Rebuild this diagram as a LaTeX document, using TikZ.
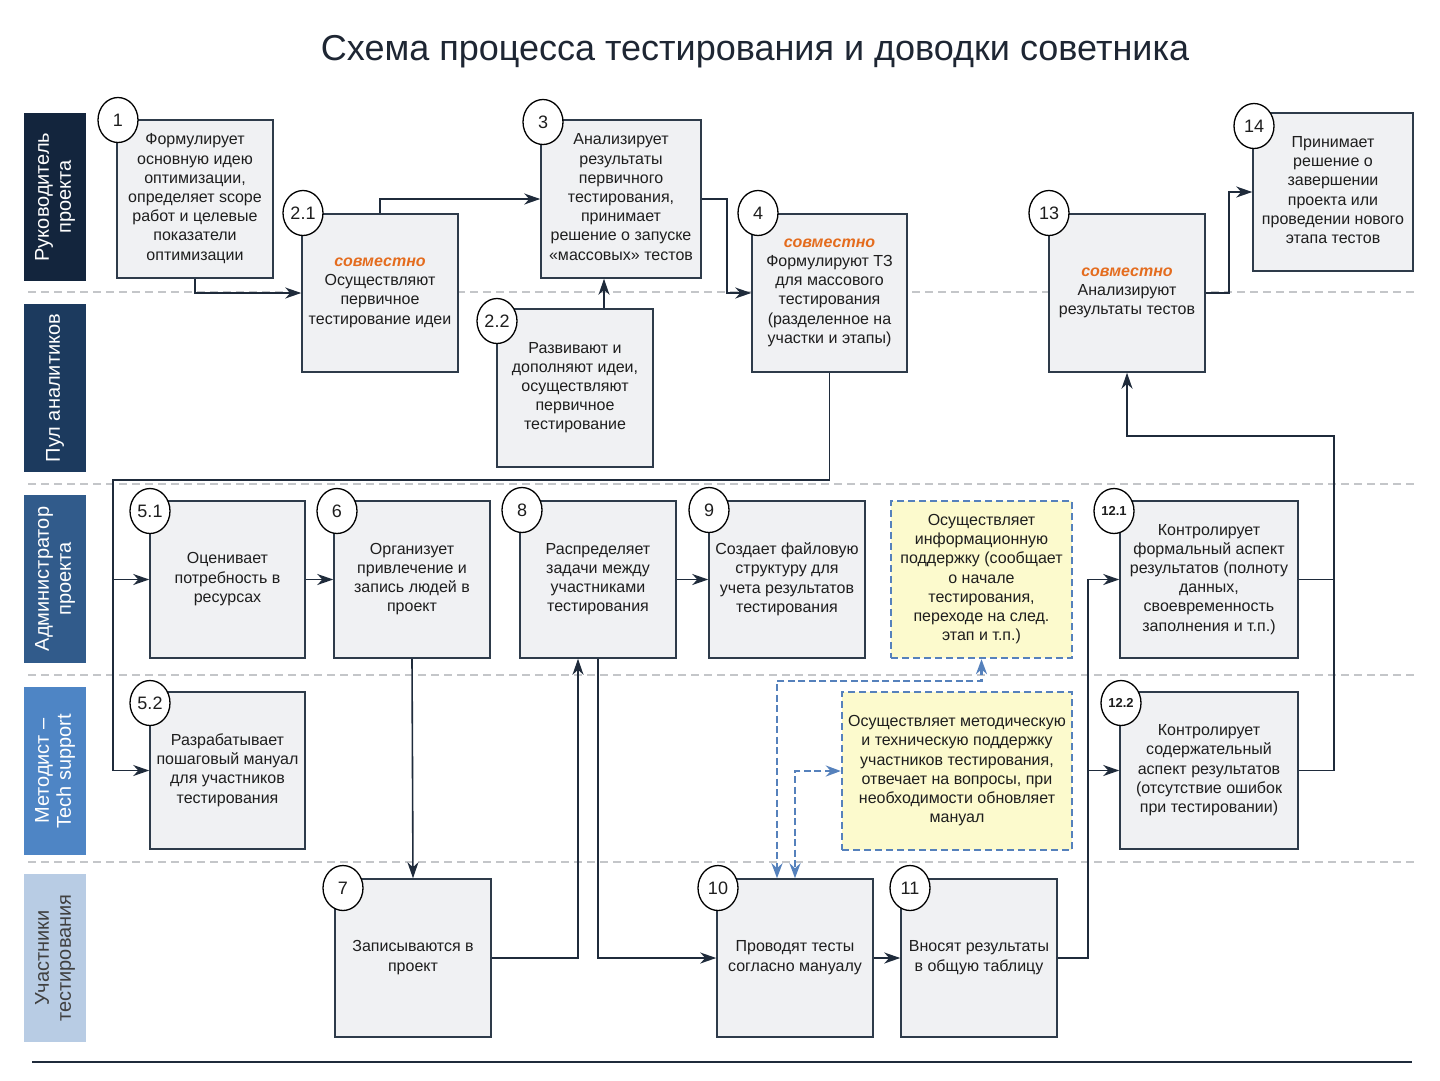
\documentclass[tikz,border=0pt]{standalone}
\usepackage{fontspec}
\setmainfont{Liberation Sans}
\usetikzlibrary{arrows.meta,shapes.geometric}
\definecolor{boxfill}{HTML}{F0F1F3}
\definecolor{boxline}{HTML}{2E3B4A}
\definecolor{lc}{HTML}{1F2B3B}
\definecolor{txt}{HTML}{1E1E1E}
\definecolor{titlec}{HTML}{1E2633}
\definecolor{sovc}{HTML}{E46C1E}
\definecolor{yfill}{HTML}{FCFACD}
\definecolor{dblue}{HTML}{5581BC}
\definecolor{sepc}{HTML}{C4C6C9}
\definecolor{laneA}{HTML}{13253D}
\definecolor{laneB}{HTML}{1C3A5E}
\definecolor{laneC}{HTML}{315B8B}
\definecolor{laneD}{HTML}{4E85C5}
\definecolor{laneE}{HTML}{B8CCE4}
\newcommand{\sov}{\textcolor{sovc}{\bfseries\itshape совместно}}
\begin{document}
\begin{tikzpicture}[x=1pt,y=-1pt,
  box/.style={draw=boxline, fill=boxfill, line width=1.5pt, minimum width=156pt, minimum height=158pt,
    align=center, font=\fontsize{16}{19.2}\selectfont, text=txt, inner sep=1pt, text depth=4pt},
  ybox/.style={box, draw=dblue, fill=yfill, dash pattern=on 7pt off 4pt, line width=2.4pt},
  num/.style={ellipse, draw=black, fill=white, minimum width=40pt, minimum height=45pt, inner sep=0pt,
    line width=1.3pt, font=\fontsize{18}{18}\selectfont, text=txt, text depth=0pt},
  bnum/.style={num, font=\fontsize{13}{13}\selectfont\bfseries},
  lane/.style={rotate=90, minimum width=168pt, minimum height=62pt, inner sep=0pt, align=center,
    font=\fontsize{20}{22}\selectfont, text=white},
  sep/.style={draw=sepc, line width=1.2pt, dash pattern=on 8pt off 5pt},
  arr/.style={draw=lc, line width=1.6pt, -{Stealth[length=16pt,width=11pt,inset=5pt]}},
  ln/.style={draw=lc, line width=1.6pt},
  darr/.style={draw=dblue, line width=2.6pt, dash pattern=on 7pt off 3.5pt,
    {Stealth[length=15pt,width=11pt,inset=5pt]}-{Stealth[length=15pt,width=11pt,inset=5pt]}}
]
\useasboundingbox (0,0) rectangle (1440,1080);
\fill[white] (0,0) rectangle (1440,1080);

% title
\node[font=\fontsize{36}{40}\selectfont, text=titlec] (title) at (755,52) {Схема процесса тестирования и доводки советника};

% lane separators
\foreach \yy in {292,484,675,862} \draw[sep] (28,\yy) -- (1415,\yy);
\draw[draw=lc, line width=1.6pt] (32,1062) -- (1412,1062);

% lane labels
\node[lane, fill=laneA] (L1) at (55,197) {Руководитель\\проекта};
\node[lane, fill=laneB] (L2) at (55,388) {Пул аналитиков};
\node[lane, fill=laneC] (L3) at (55,579) {Администратор\\проекта};
\node[lane, fill=laneD] (L4) at (55,771) {Методист –\\Tech support};
\node[lane, fill=laneE, text=black!75] (L5) at (55,958) {Участники\\тестирования};

% boxes
\node[box] (b1) at (195,199) {Формулирует\\основную идею\\оптимизации,\\определяет scope\\работ и целевые\\показатели\\оптимизации};
\node[box] (b21) at (380,293) {\sov\\Осуществляют\\первичное\\тестирование идеи};
\node[box, minimum width=160pt] (b3) at (621,199) {Анализирует\\результаты\\первичного\\тестирования,\\принимает\\решение о запуске\\«массовых» тестов};
\node[box] (b22) at (575,388) {Развивают и\\дополняют идеи,\\осуществляют\\первичное\\тестирование};
\node[box, minimum width=155pt] (b4) at (829.5,293) {\sov\\Формулируют ТЗ\\для массового\\тестирования\\(разделенное на\\участки и этапы)};
\node[box] (b13) at (1127,293) {\sov\\Анализируют\\результаты тестов};
\node[box, minimum width=160pt] (b14) at (1333,192) {Принимает\\решение о\\завершении\\проекта или\\проведении нового\\этапа тестов};

\node[box, minimum width=155pt, minimum height=157pt] (b51) at (227.5,579.5) {Оценивает\\потребность в\\ресурсах};
\node[box, minimum height=157pt] (b6) at (412,579.5) {Организует\\привлечение и\\запись людей в\\проект};
\node[box, minimum height=157pt] (b8) at (598,579.5) {Распределяет\\задачи между\\участниками\\тестирования};
\node[box, minimum height=157pt] (b9) at (787,579.5) {Создает файловую\\структуру для\\учета результатов\\тестирования};
\node[ybox, minimum width=181pt, minimum height=157pt] (yA) at (981.5,579.5) {Осуществляет\\информационную\\поддержку (сообщает\\о начале\\тестирования,\\переходе на след.\\этап и т.п.)};
\node[box, minimum width=178pt, minimum height=157pt] (b121) at (1209,579.5) {Контролирует\\формальный аспект\\результатов (полноту\\данных,\\своевременность\\заполнения и т.п.)};

\node[box, minimum width=155pt, minimum height=157pt] (b52) at (227.5,770.5) {Разрабатывает\\пошаговый мануал\\для участников\\тестирования};
\node[ybox, minimum width=230pt] (yB) at (957,771) {Осуществляет методическую\\и техническую поддержку\\участников тестирования,\\отвечает на вопросы, при\\необходимости обновляет\\мануал};
\node[box, minimum width=178pt, minimum height=157pt] (b122) at (1209,770.5) {Контролирует\\содержательный\\аспект результатов\\(отсутствие ошибок\\при тестировании)};

\node[box] (b7) at (413,958) {Записываются в\\проект};
\node[box] (b10) at (795,958) {Проводят тесты\\согласно мануалу};
\node[box] (b11) at (979,958) {Вносят результаты\\в общую таблицу};

% number circles
\node[num] (n1) at (118,120) {1};
\node[num] (n21) at (303,213) {2.1};
\node[num] (n3) at (543,122) {3};
\node[num] (n22) at (497,321) {2.2};
\node[num] (n4) at (758,213) {4};
\node[num] (n13) at (1049,213) {13};
\node[num] (n14) at (1254,126) {14};
\node[num] (n51) at (150,511) {5.1};
\node[num] (n6) at (337,511) {6};
\node[num] (n8) at (522,510) {8};
\node[num] (n9) at (709,510) {9};
\node[bnum] (n121) at (1114,511) {12.1};
\node[num] (n52) at (150,703) {5.2};
\node[bnum] (n122) at (1121,703) {12.2};
\node[num] (n7) at (343,888) {7};
\node[num] (n10) at (718,888) {10};
\node[num] (n11) at (910,888) {11};

% helper coordinates
\coordinate (x604) at (604,0);
\coordinate (x727) at (727,0);
\coordinate (j5) at (113,480);
\coordinate (x578) at (578,0);
\coordinate (x1088) at (1088,0);
\coordinate (x1334) at (1334,0);
\coordinate (y436) at (0,436);
\coordinate (x1229) at (1229,0);
\coordinate (x777) at (777,0);
\coordinate (y681) at (0,681);

% connectors
\draw[arr] (b1.south) |- (b21.west);
\draw[arr] (b21.north) |- (b3.west);
\draw[arr] (b22.north -| x604) -- (b3.south -| x604);
\draw[arr] (b3.east) -| (x727 |- b4.west) -- (b4.west);
\draw[arr] (b4.south) |- (j5) |- (b52.west);
\draw[arr] (j5 |- b51.west) -- (b51.west);
\draw[arr] (b51.east) -- (b6.west);
\draw[arr] (b6.south) -- (b7.north);
\draw[arr] (b7.east) -| (b8.south -| x578);
\draw[arr] (b8.south) |- (b10.west);
\draw[arr] (b8.east) -- (b9.west);
\draw[arr] (b10.east) -- (b11.west);
\draw[arr] (b11.east) -| (x1088 |- b121.west) -- (b121.west);
\draw[arr] (x1088 |- b122.west) -- (b122.west);
\draw[ln] (b121.east) -- (x1334 |- b121.east);
\draw[arr] (b122.east) -| (x1334 |- y436) -| (b13.south);
\draw[arr] (b13.east) -| (x1229 |- b14.west) -- (b14.west);

% dashed support connectors
\draw[darr] (yA.south) |- (x777 |- y681) -- (x777 |- b10.north);
\draw[darr] (yB.west) -| (b10.north);
\end{tikzpicture}
\end{document}
